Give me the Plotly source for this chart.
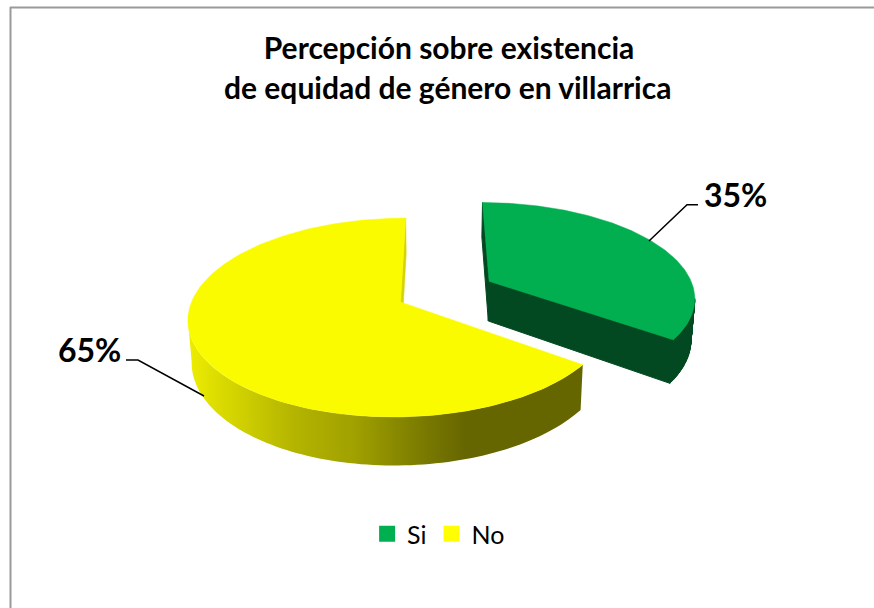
import numpy as np
import plotly.graph_objects as go

# ---- data ----
categories = ["Si", "No"]
values = [35, 65]
exploded = [0.485, 0.0]
title_lines = ["Percepción sobre existencia", "de equidad de género en villarrica"]

# ---- colours ----
top_colors = ["#02AF50", "#FBFB00"]
legend_colors = ["#00B050", "#FFFF00"]
GREEN_SIDE = "#024821"
YELLOW_RIM = [[0, "#ECEC00"], [0.1, "#DCDC00"], [0.38, "#B4B400"], [0.6, "#A0A000"],
              [0.82, "#7E7E00"], [1, "#666600"]]

# ---- projection of the pie (perspective camera) ----
VX, CX_W, CY = 439.0, -38.5, 302.0
R, K, P = 209.0, 97.0, 0.156
D, SHRINK = 41.0, 0.985


def project(xw, yw, depth=0.0):
    s = 1 / (1 + P * yw)
    x = VX + (CX_W + R * xw) * s
    y = CY + (-K * yw + D * depth) * s
    x = VX + (x - VX) * (1 - (1 - SHRINK) * depth)
    return x, y


def poly(fig, xs, ys, color=None, gradient=None, lw=0.5):
    kw = dict(fillgradient=gradient) if gradient else dict(fillcolor=color)
    fig.add_trace(go.Scatter(x=list(xs), y=list(ys), mode="lines", fill="toself",
                             line=dict(width=lw, color=color or "rgba(0,0,0,0)"),
                             hoverinfo="skip", showlegend=False, **kw))


def front_rim(tx, ty, bx, by):
    """Quads swept from the top arc to the bottom arc, front-facing part only."""
    xs, ys = [], []
    for j in range(len(tx) - 1):
        if tx[j + 1] < tx[j]:  # moving clockwise along the near side
            xs += [tx[j], tx[j + 1], bx[j + 1], bx[j], tx[j], None]
            ys += [ty[j], ty[j + 1], by[j + 1], by[j], ty[j], None]
    return xs, ys


fig = go.Figure()

total = sum(values)
shares = np.cumsum([0] + values) / total * 2 * np.pi  # clockwise from north
for i, cat in enumerate(categories):
    a0, a1 = shares[i], shares[i + 1]
    mid = (a0 + a1) / 2
    ox, oy = exploded[i] * np.sin(mid), exploded[i] * np.cos(mid)
    t = np.linspace(a0, a1, 160)
    ax, ay = ox + np.sin(t), oy + np.cos(t)

    tx, ty = project(ax, ay, 0)
    bx, by = project(ax, ay, 1)
    cx, cy = project(ox, oy, 0)
    dx, dy = project(ox, oy, 1)
    rx, ry = front_rim(tx, ty, bx, by)

    if cat == "Si":
        # start wall, end wall, rim, then top
        poly(fig, [cx, tx[0], bx[0], dx, cx], [cy, ty[0], by[0], dy, cy], GREEN_SIDE, lw=1)
        poly(fig, [cx, tx[-1], bx[-1], dx, cx], [cy, ty[-1], by[-1], dy, cy], GREEN_SIDE, lw=1)
        poly(fig, rx, ry, GREEN_SIDE, lw=1)
    else:
        # end of the slice (north) shows its cut face on the right
        poly(fig, [cx, tx[-1], bx[-1], dx, cx], [cy, ty[-1], by[-1], dy, cy], "#D4D400")
        poly(fig, rx, ry,
             gradient=dict(type="horizontal", colorscale=YELLOW_RIM, start=190, stop=465))
    poly(fig, [cx] + list(tx) + [cx], [cy] + list(ty) + [cy], top_colors[i])

# ---- legend ----
for cat, col in zip(categories, legend_colors):
    fig.add_trace(go.Scatter(x=[None], y=[None], mode="markers", name=cat,
                             marker=dict(symbol="square", size=17, color=col)))

# ---- frame and leader lines ----
FRAME = "#9A9A9A"
shapes = [
    dict(type="line", x0=10.5, x1=10.5, y0=7, y1=608, line=dict(color=FRAME, width=2)),
    dict(type="line", x0=10, x1=874, y0=7.5, y1=7.5, line=dict(color=FRAME, width=2)),
]
leaders = {"Si": ((649, 241), (687, 204.7), (698, 204.7)),
           "No": ((204, 396), (138, 360), (126, 360))}
for pts in leaders.values():
    path = "M " + " L ".join(f"{x} {y}" for x, y in pts)
    shapes.append(dict(type="path", path=path, line=dict(color="#000000", width=1.5)))

# ---- text ----
label_pos = {"Si": (735, 194), "No": (89, 349)}
annotations = [
    dict(x=label_pos[c][0], y=label_pos[c][1], text=f"<b>{v}%</b>", showarrow=False,
         xanchor="center", yanchor="middle",
         font=dict(family="Lato", size=32, color="#000000"))
    for c, v in zip(categories, values)
]
annotations.append(dict(x=447, y=87, text=f"<b>{title_lines[1]}</b>", showarrow=False,
                        xanchor="center", yanchor="middle",
                        font=dict(family="Lato", size=30, color="#000000")))

fig.update_layout(
    width=874, height=608, margin=dict(l=0, r=0, t=0, b=0),
    paper_bgcolor="white", plot_bgcolor="white",
    title=dict(text=f"<b>{title_lines[0]}</b>", x=449 / 874, xanchor="center",
               y=1 - 48 / 608, yanchor="middle",
               font=dict(family="Lato", size=30, color="#000000")),
    xaxis=dict(range=[0, 874], visible=False, fixedrange=True),
    yaxis=dict(range=[608, 0], visible=False, fixedrange=True),
    legend=dict(orientation="h", x=438.6 / 874, xanchor="center", y=1 - 534 / 608, yanchor="middle",
                font=dict(family="Lato", size=25, color="#000000"),
                bgcolor="rgba(0,0,0,0)"),
    shapes=shapes, annotations=annotations, showlegend=True,
)
fig.write_html("out.html", config={"displayModeBar": False},
               post_script="document.body.style.margin='0';")
